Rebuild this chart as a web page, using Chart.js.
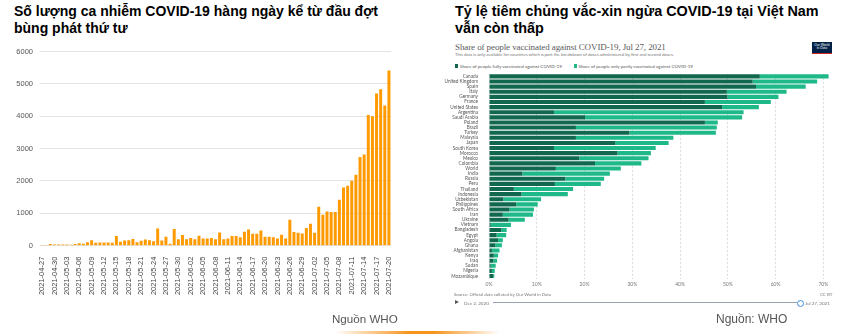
<!DOCTYPE html>
<html>
<head>
<meta charset="utf-8">
<script src="https://cdn.jsdelivr.net/npm/chart.js@4.4.1/dist/chart.umd.min.js"></script>
<style>
  body { margin: 0; background: #fff; width: 861px; height: 334px; overflow: hidden; position: relative; font-family: "Liberation Sans", Arial, sans-serif; }
  .abs { position: absolute; white-space: nowrap; }
  .title { font-weight: bold; line-height: 16.6px; color: #000; }
  .tiny { font-family: Lato, sans-serif; color: #777; }
  canvas { position: absolute; }
</style>
</head>
<body>
<div class="abs title" style="left:14px; top:3px; font-size:14px;">Số lượng ca nhiễm COVID-19 hàng ngày kể từ đầu đợt<br>bùng phát thứ tư</div>
<div class="abs title" style="left:455px; top:3px; font-size:14.4px;">Tỷ lệ tiêm chủng vắc-xin ngừa COVID-19 tại Việt Nam<br>vẫn còn thấp</div>

<canvas id="casesChart" width="420" height="255" style="left:0; top:40px;"></canvas>

<!-- OWID panel text -->
<div class="abs" style="left:455px; top:41.5px; font-family:'Liberation Serif', serif; font-size:9px; color:#5b5b5b; letter-spacing:-0.1px;">Share of people vaccinated against COVID-19, Jul 27, 2021</div>
<div class="abs tiny" style="left:455px; top:52px; font-size:4.3px;">This data is only available for countries which report the breakdown of doses administered by first and second doses.</div>
<div class="abs" style="left:455px; top:64.3px; width:3.4px; height:3.4px; background:#12684f;"></div>
<div class="abs tiny" style="left:460px; top:63px; font-size:4.6px; color:#555;">Share of people fully vaccinated against COVID-19</div>
<div class="abs" style="left:573.5px; top:64.3px; width:3.4px; height:3.4px; background:#1fb889;"></div>
<div class="abs tiny" style="left:578.5px; top:63px; font-size:4.6px; color:#555;">Share of people only partly vaccinated against COVID-19</div>
<div class="abs" style="left:812px; top:42px; width:20px; height:11px; background:#002147; color:#fff; font-size:3.3px; line-height:3.6px; text-align:center; padding-top:1.5px; box-sizing:border-box; font-family:Lato, sans-serif;">Our World<br>in Data</div>
<div class="abs" style="left:812px; top:53px; width:20px; height:1.2px; background:#ce261e;"></div>

<canvas id="vaccChart" width="400" height="225" style="left:440px; top:68px;"></canvas>

<div class="abs tiny" style="left:454px; top:292px; font-size:4.4px;">Source: Official data collated by Our World in Data</div>
<div class="abs tiny" style="left:820px; top:292px; font-size:4.4px;">CC BY</div>
<div class="abs" style="left:455px; top:300.2px; width:0; height:0; border-top:2.5px solid transparent; border-bottom:2.5px solid transparent; border-left:4.5px solid #555;"></div>
<div class="abs tiny" style="left:464px; top:300px; font-size:4.6px;">Dec 2, 2020</div>
<div class="abs" style="left:493px; top:302px; width:304px; height:1.3px; background:#9aa3b5;"></div>
<div class="abs" style="left:797px; top:299.6px; width:5px; height:5px; border:1px solid #3b8fd9; border-radius:50%; background:#fff;"></div>
<div class="abs tiny" style="left:805px; top:300px; font-size:4.6px;">Jul 27, 2021</div>

<div class="abs" style="left:332px; top:312px; font-size:11.6px; color:#555;">Nguồn WHO</div>
<div class="abs" style="left:716px; top:312px; font-size:12px; color:#555;">Nguồn: WHO</div>
<div class="abs" style="left:335px; top:330.5px; width:165px; height:3.5px; border-radius:3px; background:linear-gradient(to right, rgba(247,148,29,0), #f7941d 45%, #f7941d 60%, rgba(247,148,29,0));"></div>

<script>
// daily cases, 2021-04-27 .. 2021-07-20
const dates = [
  "2021-04-27","2021-04-28","2021-04-29","2021-04-30","2021-05-01","2021-05-02","2021-05-03","2021-05-04","2021-05-05","2021-05-06",
  "2021-05-07","2021-05-08","2021-05-09","2021-05-10","2021-05-11","2021-05-12","2021-05-13","2021-05-14","2021-05-15","2021-05-16",
  "2021-05-17","2021-05-18","2021-05-19","2021-05-20","2021-05-21","2021-05-22","2021-05-23","2021-05-24","2021-05-25","2021-05-26",
  "2021-05-27","2021-05-28","2021-05-29","2021-05-30","2021-05-31","2021-06-01","2021-06-02","2021-06-03","2021-06-04","2021-06-05",
  "2021-06-06","2021-06-07","2021-06-08","2021-06-09","2021-06-10","2021-06-11","2021-06-12","2021-06-13","2021-06-14","2021-06-15",
  "2021-06-16","2021-06-17","2021-06-18","2021-06-19","2021-06-20","2021-06-21","2021-06-22","2021-06-23","2021-06-24","2021-06-25",
  "2021-06-26","2021-06-27","2021-06-28","2021-06-29","2021-06-30","2021-07-01","2021-07-02","2021-07-03","2021-07-04","2021-07-05",
  "2021-07-06","2021-07-07","2021-07-08","2021-07-09","2021-07-10","2021-07-11","2021-07-12","2021-07-13","2021-07-14","2021-07-15",
  "2021-07-16","2021-07-17","2021-07-18","2021-07-19","2021-07-20"
];
const cases = [
  20, 25, 55, 35, 35, 40, 35, 30, 55, 75,
  60, 110, 170, 90, 100, 100, 100, 95, 300, 120,
  160, 165, 210, 110, 150, 190, 170, 140, 535, 160,
  280, 60, 515, 200, 330, 200, 240, 200, 310, 220,
  220, 240, 200, 410, 200, 220, 300, 300, 260, 430,
  500, 370, 370, 470, 280, 280, 260, 220, 340, 220,
  800, 420, 400, 380, 545, 675, 400, 1200, 960, 1060,
  1040, 1040, 1420, 1800, 1855, 2005, 2190, 2740, 2820, 4040,
  4000, 4700, 4830, 4335, 5415
];
const caseTicks = [0, 1000, 2000, 3000, 4000, 5000, 6000];

// share vaccinated, Jul 27 2021 (%)
const countries = ["Canada","United Kingdom","Spain","Italy","Germany","France","United States","Argentina","Saudi Arabia","Poland",
  "Brazil","Turkey","Malaysia","Japan","South Korea","Morocco","Mexico","Colombia","World","India",
  "Russia","Peru","Thailand","Indonesia","Uzbekistan","Philippines","South Africa","Iran","Ukraine","Vietnam",
  "Bangladesh","Egypt","Angola","Ghana","Afghanistan","Kenya","Iraq","Sudan","Nigeria","Mozambique"];
const fullyVaccinated = [56.7, 55.2, 55.9, 49.8, 49.9, 45.2, 48.8, 13.6, 20.1, 45.2,
  18.2, 29.4, 18.2, 26.4, 13.6, 26.9, 18.9, 22.2, 14.0, 7.0,
  16.0, 13.8, 5.2, 6.8, 3.0, 5.7, 4.3, 2.9, 4.1, 0.35,
  2.6, 1.6, 1.9, 1.3, 0.6, 1.0, 0.9, 0.35, 0.6, 0.9];
const partlyVaccinated = [14.4, 13.5, 10.4, 12.5, 10.7, 13.8, 7.7, 39.7, 32.9, 2.7,
  29.5, 18.1, 20.4, 11.2, 21.3, 7.0, 14.5, 9.7, 13.6, 18.3,
  8.1, 9.6, 12.4, 9.7, 7.9, 4.5, 5.1, 6.3, 3.4, 4.25,
  1.1, 2.0, 1.0, 1.4, 1.6, 0.9, 0.8, 1.05, 0.6, 0.2];
const pctTicks = [0, 10, 20, 30, 40, 50, 60, 70];

new Chart(document.getElementById("casesChart"), {
  type: "bar",
  data: {
    labels: dates,
    datasets: [{
      label: "Cases",
      data: cases,
      backgroundColor: "#ff9a00",
      barPercentage: 0.72,
      categoryPercentage: 1
    }]
  },
  options: {
    responsive: false,
    animation: false,
    devicePixelRatio: 1,
    layout: { padding: { top: 7.3, right: 29, left: 0, bottom: 0 } },
    plugins: { legend: { display: false }, tooltip: { enabled: false } },
    scales: {
      x: {
        grid: { display: false },
        border: { display: false },
        ticks: {
          autoSkip: false,
          minRotation: 90,
          maxRotation: 90,
          padding: 3,
          color: "#444",
          font: { family: "Liberation Sans", size: 7.5 },
          callback: (v, i) => (i % 3 === 0 ? dates[i] : null)
        },
        afterFit: (s) => { s.height = 49.3; }
      },
      y: {
        min: 0,
        max: 6000,
        afterBuildTicks: (s) => { s.ticks = caseTicks.map((v) => ({ value: v })); },
        grid: { color: "#e3e3e3", drawTicks: false },
        border: { display: false },
        ticks: {
          padding: 7,
          color: "#555",
          font: { family: "Liberation Sans", size: 7.5 },
          callback: (v) => String(v)
        },
        afterFit: (s) => { s.width = 40; }
      }
    }
  }
});

new Chart(document.getElementById("vaccChart"), {
  type: "bar",
  data: {
    labels: countries,
    datasets: [
      {
        label: "Share of people fully vaccinated against COVID-19",
        data: fullyVaccinated,
        backgroundColor: "#12684f",
        barPercentage: 0.8,
        categoryPercentage: 1
      },
      {
        label: "Share of people only partly vaccinated against COVID-19",
        data: partlyVaccinated,
        backgroundColor: "#1fb889",
        barPercentage: 0.8,
        categoryPercentage: 1
      }
    ]
  },
  options: {
    indexAxis: "y",
    responsive: false,
    animation: false,
    devicePixelRatio: 1,
    layout: { padding: { top: 4.4, right: 9.5, left: 0, bottom: 0 } },
    plugins: { legend: { display: false }, tooltip: { enabled: false } },
    scales: {
      x: {
        stacked: true,
        min: 0,
        max: 71.5,
        afterBuildTicks: (s) => { s.ticks = pctTicks.map((v) => ({ value: v })); },
        grid: { color: "#dcdcdc", drawTicks: false },
        border: { display: false, dash: [2, 2] },
        ticks: {
          padding: 3,
          color: "#777",
          font: { family: "Lato", size: 5 },
          callback: (v) => v + "%"
        },
        afterFit: (s) => { s.height = 14.4; }
      },
      y: {
        stacked: true,
        grid: { display: false },
        border: { display: false },
        ticks: { autoSkip: false, padding: 3, color: "#555", font: { family: "Lato", size: 4.7 } },
        afterFit: (s) => { s.width = 49; }
      }
    }
  }
});
</script>
</body>
</html>
